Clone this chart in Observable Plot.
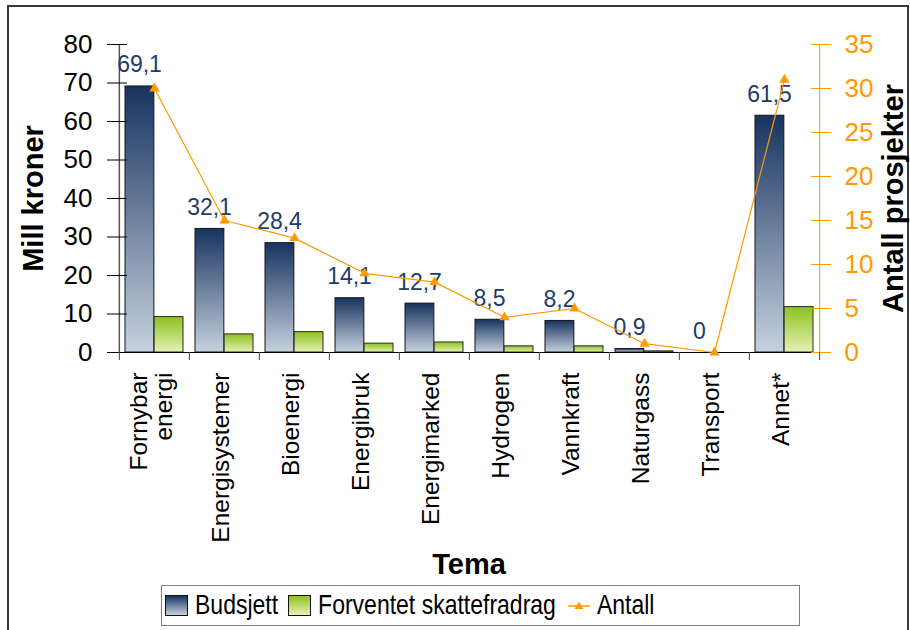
<!DOCTYPE html>
<html>
<head>
<meta charset="utf-8">
<script src="https://cdn.jsdelivr.net/npm/d3@7"></script>
<script src="https://cdn.jsdelivr.net/npm/@observablehq/plot@0.6"></script>
<style>
  body { margin: 0; background: #fff; font-family: "Liberation Sans", Arial, sans-serif; }
  #wrap { position: relative; width: 910px; height: 630px; overflow: hidden; background: #fff; }
  #frame { position: absolute; left: 7px; top: 5px; width: 902px; height: 700px; border: 2px solid #3a3a3a; box-sizing: border-box; }
  #chart { position: absolute; left: 0; top: 0; }
  #legend { position: absolute; left: 161px; top: 585px; width: 639px; height: 41px; border: 1.5px solid #7f7f7f; box-sizing: border-box;
            display: flex; align-items: center; font-size: 23px; color: #000; background: #fff;
            font-family: "Liberation Sans", Arial, sans-serif; }
  .sw { width: 23px; height: 21px; box-sizing: border-box; border: 1px solid #111; flex: none; }
  .lab { white-space: nowrap; display: inline-block; transform: scaleY(1.2); transform-origin: 50% 55%; }
</style>
</head>
<body>
<div id="wrap">
  <div id="frame"></div>
  <div id="chart"></div>
  <div id="legend"></div>
</div>
<script>
// ---- data ----
const categories = ["Fornybar\nenergi", "Energisystemer", "Bioenergi", "Energibruk", "Energimarked", "Hydrogen", "Vannkraft", "Naturgass", "Transport", "Annet*"];
const budsjett = [69.1, 32.1, 28.4, 14.1, 12.7, 8.5, 8.2, 0.9, 0, 61.5];
const skattefradrag = [9.2, 4.7, 5.3, 2.3, 2.6, 1.6, 1.6, 0.3, 0, 11.8];
const antall = [30, 15, 13, 9, 8, 4, 5, 1, 0, 31];
const leftTicks = [0, 10, 20, 30, 40, 50, 60, 70, 80];
const rightTicks = [0, 5, 10, 15, 20, 25, 30, 35];
const seriesNames = ["Budsjett", "Forventet skattefradrag", "Antall"];

// ---- layout ----
const W = 910, H = 580, ML = 117, MR = 90, MT = 44, MB = 228;
const bw = (W - ML - MR) / categories.length;
const k = 80 / 35; // right axis -> left axis units
const orange = "#FF9900";
const labelBlue = "#1F3B6B";
const font = "'Liberation Sans', Arial, sans-serif";

const data = categories.map((c, i) => ({cat: c, budsjett: budsjett[i], skatt: skattefradrag[i], antall: antall[i]}));
const fmt = v => v === 0 ? "0" : v.toFixed(1).replace(".", ",");

const chart = Plot.plot({
  width: W, height: H,
  marginLeft: ML, marginRight: MR, marginTop: MT, marginBottom: MB,
  style: {fontFamily: font, background: "transparent", overflow: "visible"},
  x: {type: "band", domain: categories, padding: 0},
  y: {domain: [0, 80]},
  marks: [
    Plot.barY(data, {x: "cat", y: "budsjett", fill: "url(#gBlue)", stroke: "#151515", strokeWidth: 1, insetLeft: 6, insetRight: bw / 2}),
    Plot.barY(data, {x: "cat", y: "skatt", fill: "url(#gGreen)", stroke: "#2a2a2a", strokeWidth: 1, insetLeft: bw / 2, insetRight: 6}),
    // axis lines
    Plot.ruleY([0], {stroke: "#000", strokeWidth: 1}),
    Plot.ruleX([categories[0]], {dx: -bw / 2, stroke: "#555", strokeWidth: 1.5}),
    Plot.ruleX([categories[categories.length - 1]], {dx: bw / 2, stroke: orange, strokeWidth: 1}),
    // left axis
    Plot.axisY(leftTicks, {anchor: "left", tickSize: 10, tickPadding: 15, fontSize: 26, label: null, color: "#000", stroke: "#000"}),
    Plot.axisY(leftTicks, {anchor: "left", tickSize: -10, tickFormat: () => "", label: null, stroke: "#000"}),
    // right axis
    Plot.axisY(rightTicks.map(v => v * k), {anchor: "right", tickSize: 10, tickPadding: 14, fontSize: 26, label: null,
      tickFormat: d => String(Math.round(d / k)), color: orange, stroke: orange}),
    Plot.axisY(rightTicks.map(v => v * k), {anchor: "right", tickSize: -10, tickFormat: () => "", label: null, stroke: orange}),
    // x axis
    Plot.axisX({tickSize: 0, tickPadding: 20, tickRotate: -90, fontSize: 24.5, label: null, textAnchor: "end", lineAnchor: "middle", fill: "#000", dx: -3}),
    Plot.axisX({tickSize: 8, tickFormat: () => "", dx: -bw / 2, label: null, stroke: "#444"}),
    Plot.axisX([categories[categories.length - 1]], {tickSize: 8, tickFormat: () => "", dx: bw / 2, label: null, stroke: "#444"}),
    // titles
    Plot.text(["Mill kroner"], {text: d => d, frameAnchor: "left", textAnchor: "middle", lineAnchor: "middle", dx: -84, rotate: -90, fontSize: 29, fontWeight: "bold", fill: "#000"}),
    Plot.text(["Antall prosjekter"], {text: d => d, frameAnchor: "right", textAnchor: "middle", lineAnchor: "middle", dx: 73, rotate: -90, fontSize: 29, fontWeight: "bold", fill: "#000"}),
    Plot.text(["Tema"], {text: d => d, frameAnchor: "bottom", textAnchor: "middle", dy: 221, lineAnchor: "bottom", fontSize: 29, fontWeight: "bold", fill: "#000"}),
    // data labels
    Plot.text(data, {x: "cat", y: "budsjett", text: d => fmt(d.budsjett), dx: -15, dy: -14, lineAnchor: "bottom", fontSize: 23, fill: labelBlue}),
    // Antall line
    Plot.line(data, {x: "cat", y: d => d.antall * k, stroke: orange, strokeWidth: 1.2}),
    Plot.dot(data, {x: "cat", y: d => d.antall * k, symbol: "triangle", r: 3.8, fill: orange, stroke: "none"})
  ]
});

// gradients
const defs = d3.select(chart).insert("defs", ":first-child");
function grad(id, top, bottom) {
  const g = defs.append("linearGradient").attr("id", id).attr("x1", 0).attr("y1", 0).attr("x2", 0).attr("y2", 1);
  g.append("stop").attr("offset", "0%").attr("stop-color", top);
  g.append("stop").attr("offset", "100%").attr("stop-color", bottom);
}
grad("gBlue", "#17335F", "#C6D1DE");
grad("gGreen", "#8DC21E", "#E5F1B4");

document.getElementById("chart").appendChild(chart);

// legend
const legend = document.getElementById("legend");
legend.innerHTML = `
  <div class="sw" style="margin-left:3px;background:linear-gradient(#17335F,#C6D1DE)"></div>
  <span class="lab" style="margin-left:7px">${seriesNames[0]}</span>
  <div class="sw" style="margin-left:10px;background:linear-gradient(#8DC21E,#E5F1B4)"></div>
  <span class="lab" style="margin-left:7px">${seriesNames[1]}</span>
  <svg width="22" height="14" style="margin-left:12px;flex:none">
    <line x1="0" y1="7" x2="22" y2="7" stroke="${orange}" stroke-width="1.5"></line>
    <path d="M11,2.5 L15.5,10 L6.5,10 Z" fill="${orange}"></path>
  </svg>
  <span class="lab" style="margin-left:7px">${seriesNames[2]}</span>`;
</script>
</body>
</html>
